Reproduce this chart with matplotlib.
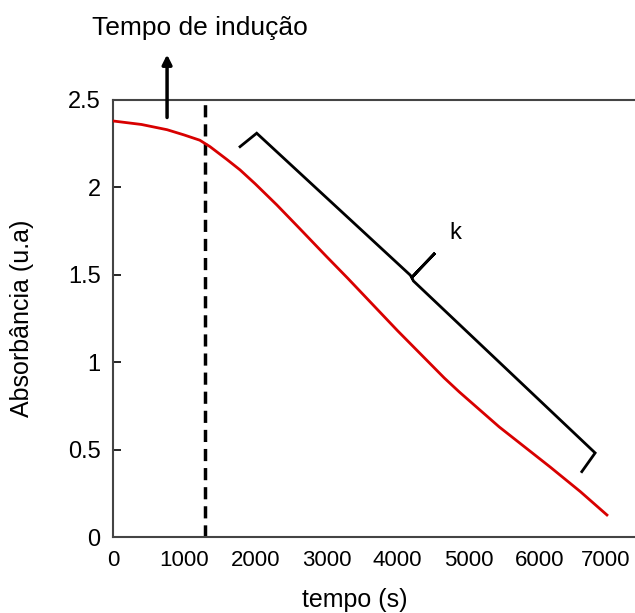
import matplotlib
matplotlib.use("Agg")
import matplotlib.pyplot as plt
import matplotlib.transforms as mtransforms

plt.rcParams['font.family'] = ['Liberation Sans', 'DejaVu Sans']

# data
tempo = [0, 400, 760, 1000, 1220, 1364, 1600, 1786, 2000, 2302, 2623, 3000,
         3300, 4000, 4656, 4867, 5428, 6146, 6568, 6943]
absorbancia = [2.38, 2.36, 2.33, 2.30, 2.27, 2.233, 2.16, 2.10, 2.02, 1.90, 1.765,
               1.605, 1.48, 1.18, 0.91, 0.83, 0.63, 0.40, 0.26, 0.126]
tempo_inducao = 1290
xticks = [0, 1000, 2000, 3000, 4000, 5000, 6000, 7000]
yticks = [0, 0.5, 1, 1.5, 2, 2.5]
ytick_labels = ['0', '0.5', '1', '1.5', '2', '2.5']

# bracket for k (data coords)
bracket_x = [1786, 2020, 4176, 4200, 4527, 4200, 4222, 6777, 6590]
bracket_y = [2.233, 2.310, 1.499, 1.485, 1.625, 1.485, 1.465, 0.481, 0.374]

fig = plt.figure(figsize=(6.35, 6.13), dpi=100)
xmax = 7500
ax = fig.add_axes([113/635, 76/613, (498/7000*xmax)/635, 437/613])
ax.set_xlim(0, xmax)
ax.set_ylim(0, 2.5)

ax.plot(tempo, absorbancia, color='#d80000', lw=2.0, zorder=3)
ax.axvline(tempo_inducao, color='black', lw=2.5, ls=(0, (3.5, 2)), zorder=2)
ax.plot(bracket_x, bracket_y, color='black', lw=2.0, solid_joinstyle='miter')
ax.text(4809, 1.739, 'k', fontsize=17, ha='center', va='center')

ax.annotate('', xy=(760, 2.76), xytext=(760, 2.40), xycoords='data',
            arrowprops=dict(arrowstyle='-|>', color='black', lw=2.5,
                            mutation_scale=14, shrinkA=0, shrinkB=0),
            annotation_clip=False)

ax.set_xticks(xticks)
ax.set_xticklabels([str(v) for v in xticks])
ax.set_yticks(yticks)
ax.set_yticklabels(ytick_labels)
ax.tick_params(axis='x', length=0, labelsize=16, pad=9)
ax.tick_params(axis='y', direction='in', length=6, width=1.2, labelsize=17, pad=9)
last = ax.get_xticklabels()[-1]
last.set_transform(last.get_transform() +
                   mtransforms.ScaledTranslation(-5/100, 0, fig.dpi_scale_trans))
for s in ax.spines.values():
    s.set_color('#444444')
    s.set_linewidth(1.5)
ax.spines['right'].set_visible(False)

fig.text(22/635, 1 - 318/613, 'Absorbância (u.a)', rotation=90, fontsize=18,
         ha='center', va='center')
fig.text(355/635, 1 - 600/613, 'tempo (s)', fontsize=18, ha='center', va='center')
fig.text(200/635, 1 - 28/613, 'Tempo de indução', fontsize=19, ha='center', va='center')

fig.savefig('out.png', dpi=100)
